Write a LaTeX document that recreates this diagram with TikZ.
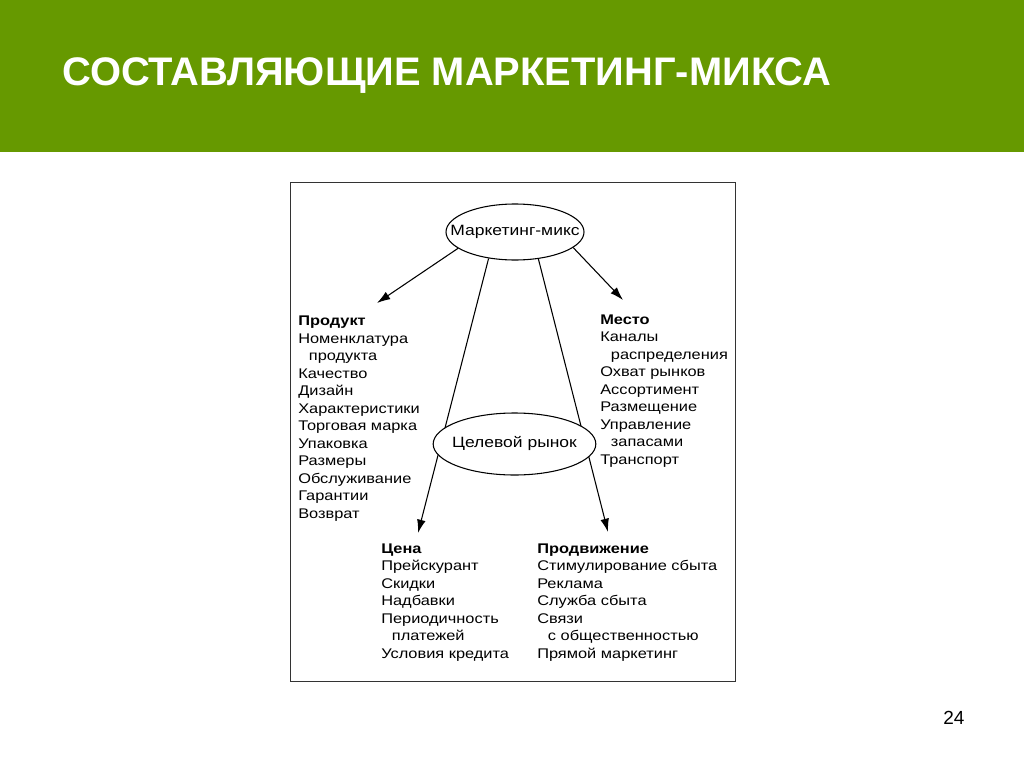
\documentclass[tikz,border=0pt]{standalone}
\usepackage{fontspec}
\setmainfont{Liberation Sans}
\newfontfamily\diagfont{Liberation Sans}[FakeStretch=1.17]
\usetikzlibrary{shapes.geometric,arrows.meta}

\definecolor{slidegreen}{RGB}{102,153,0}
\newcommand{\ind}{\hspace*{8pt}}

\begin{document}
\begin{tikzpicture}[x=0.75pt,y=-0.75pt,
    >={Latex[length=10pt,width=6.5pt]},
    every node/.style={inner sep=0pt},
    block/.style={anchor=base west,align=left,font=\diagfont\fontsize{10.5pt}{13.1pt}\selectfont},
    oval/.style={ellipse,draw,fill=white,line width=0.8pt,font=\diagfont\fontsize{11.2pt}{13pt}\selectfont}]
    \useasboundingbox (0,0) rectangle (1024,767);
    \fill[slidegreen] (0,0) rectangle (1024,152);
    \node[anchor=base west,text=white,font=\bfseries\fontsize{29.9pt}{32pt}\selectfont] (title) at (62,85) {СОСТАВЛЯЮЩИЕ МАРКЕТИНГ-МИКСА};
    \node[anchor=base west,font=\fontsize{14.25pt}{16pt}\selectfont] (page) at (943,724) {24};
    \draw[line width=0.6pt,black!80] (290,182) rectangle (735,681);
    % top oval
    \node[oval,minimum width=103.5pt,minimum height=42pt] (mix) at (515,232) {\makebox[0pt]{Маркетинг-микс}};
    \coordinate (prodtip) at (377,303);
    \coordinate (placetip) at (623,300);
    \coordinate (pricetip) at (418,533);
    \coordinate (promotip) at (608,532);
    \draw[->,line width=0.8pt] (mix.196) -- (prodtip);
    \draw[->,line width=0.8pt] (mix.345) -- (placetip);
    \draw[->,line width=0.8pt] (mix.225) -- (pricetip);
    \draw[->,line width=0.8pt] (mix.311) -- (promotip);
    % target market on top of the two lines
    \node[oval,minimum width=122pt,minimum height=46.5pt] (target) at (514.5,444) {\makebox[0pt]{Целевой рынок}};
    % the four lists (placed by their last baseline)
    \node[block] (product) at (298,518) {\textbf{Продукт}\\Номенклатура\\\ind продукта\\Качество\\Дизайн\\Характеристики\\Торговая марка\\Упаковка\\Размеры\\Обслуживание\\Гарантии\\Возврат};
    \node[block] (place) at (600,464) {\textbf{Место}\\Каналы\\\ind распределения\\Охват рынков\\Ассортимент\\Размещение\\Управление\\\ind запасами\\Транспорт};
    \node[block] (price) at (381,658) {\textbf{Цена}\\Прейскурант\\Скидки\\Надбавки\\Периодичность\\\ind платежей\\Условия кредита};
    \node[block] (promo) at (537,658) {\textbf{Продвижение}\\Стимулирование сбыта\\Реклама\\Служба сбыта\\Связи\\\ind с общественностью\\Прямой маркетинг};
\end{tikzpicture}
\end{document}
